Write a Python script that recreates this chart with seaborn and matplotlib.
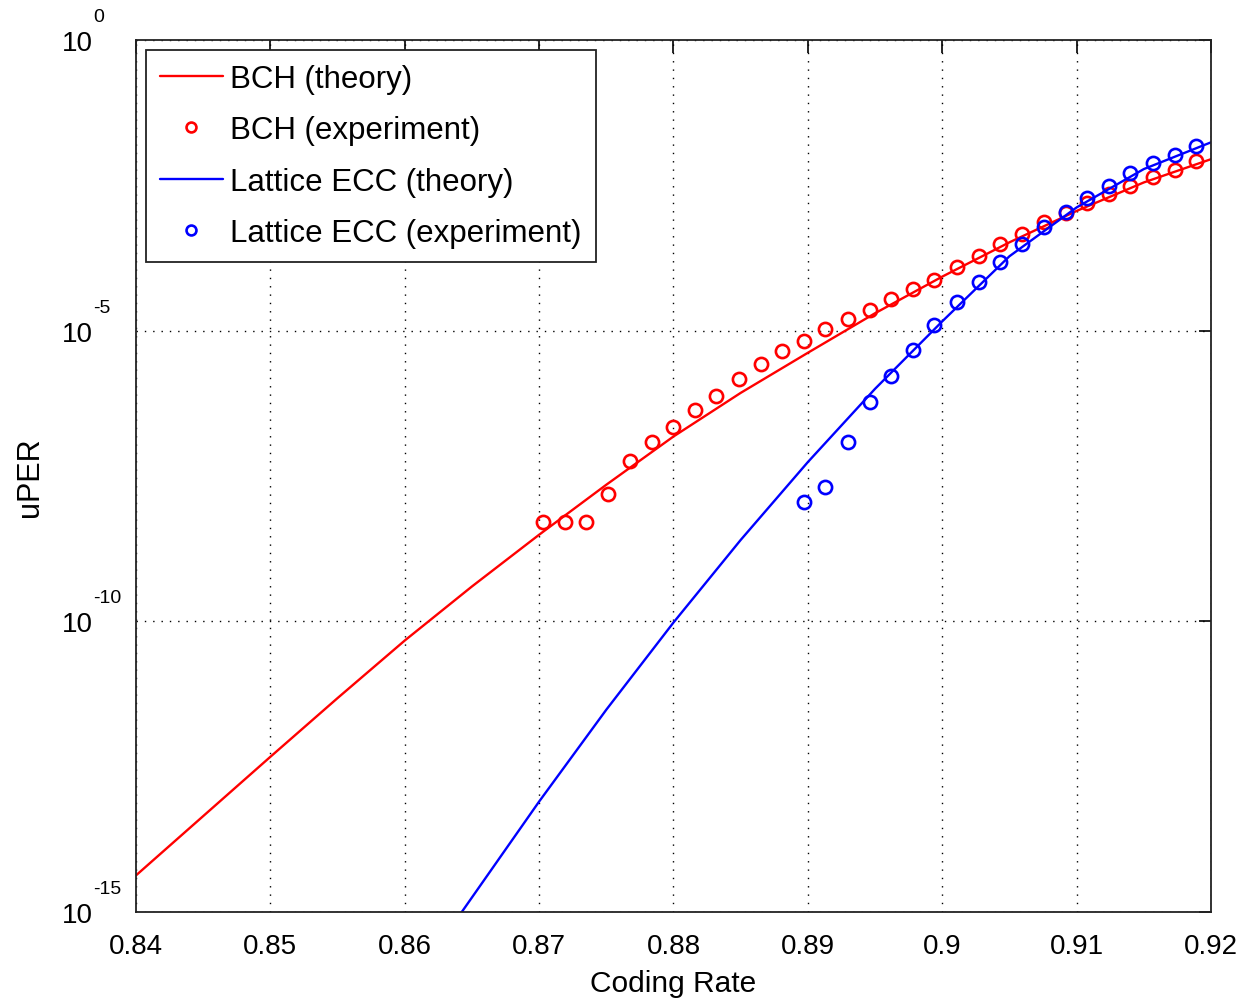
import numpy as np
import pandas as pd
import seaborn as sns
import matplotlib.pyplot as plt

# ---------------------------------------------------------
# Data (y values stored as log10)
# ---------------------------------------------------------
bch_theory_rate = [0.840, 0.845, 0.850, 0.855, 0.860, 0.865, 0.870, 0.875, 0.880,
                   0.885, 0.890, 0.895, 0.900, 0.905, 0.910, 0.915, 0.920]
bch_theory_log = [-14.37, -13.35, -12.33, -11.32, -10.33, -9.40, -8.51, -7.65, -6.82,
                  -6.07, -5.38, -4.70, -4.07, -3.48, -2.94, -2.45, -2.05]

lattice_theory_rate = [0.864, 0.865, 0.870, 0.875, 0.880, 0.885, 0.890, 0.895,
                       0.900, 0.905, 0.910, 0.915, 0.920]
lattice_theory_log = [-15.08, -14.75, -13.10, -11.52, -10.02, -8.60, -7.26, -6.00,
                      -4.84, -3.72, -2.88, -2.22, -1.76]

exp_rate = [0.8703, 0.8719, 0.8735, 0.8751, 0.8768, 0.8784, 0.8800, 0.8816,
            0.8832, 0.8849, 0.8865, 0.8881, 0.8897, 0.8913, 0.8930, 0.8946,
            0.8962, 0.8978, 0.8994, 0.9011, 0.9027, 0.9043, 0.9059, 0.9076,
            0.9092, 0.9108, 0.9124, 0.9140, 0.9157, 0.9173, 0.9189]
bch_exp_log = [-8.29, -8.29, -8.29, -7.81, -7.24, -6.92, -6.66, -6.37, -6.12, -5.83,
               -5.57, -5.35, -5.18, -4.97, -4.80, -4.64, -4.45, -4.29, -4.12, -3.90,
               -3.72, -3.51, -3.33, -3.13, -2.97, -2.80, -2.65, -2.51, -2.36, -2.23,
               -2.08]
# lattice experiment uses the last 19 rates
lattice_exp_log = [-7.95, -7.69, -6.92, -6.23, -5.78, -5.34, -4.91, -4.51, -4.17,
                   -3.82, -3.51, -3.22, -2.96, -2.71, -2.51, -2.29, -2.12, -1.98,
                   -1.83]

x_ticks = [0.84, 0.85, 0.86, 0.87, 0.88, 0.89, 0.9, 0.91, 0.92]
x_tick_labels = ['0.84', '0.85', '0.86', '0.87', '0.88', '0.89', '0.9', '0.91', '0.92']
y_decades = [0, -5, -10, -15]

# ---------------------------------------------------------
# Style
# ---------------------------------------------------------
sns.set_style('white')
plt.rcParams['font.family'] = ['Liberation Sans', 'DejaVu Sans']
plt.rcParams['text.color'] = 'black'
plt.rcParams['axes.labelcolor'] = 'black'
plt.rcParams['xtick.color'] = 'black'
plt.rcParams['ytick.color'] = 'black'

fig, ax = plt.subplots(figsize=(12.51, 10.03), dpi=100)
fig.subplots_adjust(left=0.1087, right=0.968, top=0.9591, bottom=0.0897)

bch_t = pd.DataFrame({'rate': bch_theory_rate, 'uper': np.power(10.0, bch_theory_log)})
lat_t = pd.DataFrame({'rate': lattice_theory_rate, 'uper': np.power(10.0, lattice_theory_log)})
bch_e = pd.DataFrame({'rate': exp_rate, 'uper': np.power(10.0, bch_exp_log)})
lat_e = pd.DataFrame({'rate': exp_rate[12:], 'uper': np.power(10.0, lattice_exp_log)})

sns.lineplot(data=bch_t, x='rate', y='uper', color='red', linewidth=1.7,
             label='BCH (theory)', ax=ax)
sns.lineplot(data=bch_e, x='rate', y='uper', color='red', linestyle='', marker='o',
             markersize=9.5, markerfacecolor='none', markeredgecolor='red',
             markeredgewidth=1.9, label='BCH (experiment)', ax=ax)
sns.lineplot(data=lat_t, x='rate', y='uper', color='blue', linewidth=1.7,
             label='Lattice ECC (theory)', ax=ax)
sns.lineplot(data=lat_e, x='rate', y='uper', color='blue', linestyle='', marker='o',
             markersize=9.5, markerfacecolor='none', markeredgecolor='blue',
             markeredgewidth=1.9, label='Lattice ECC (experiment)', ax=ax)

ax.set_yscale('log')
ax.set_xlim(0.84, 0.92)
ax.set_ylim(1e-15, 1)

ax.set_xticks(x_ticks)
ax.set_xticklabels(x_tick_labels)
ax.set_yticks([10.0 ** d for d in y_decades])
ax.set_yticklabels(['10'] * len(y_decades))
ax.minorticks_off()

# exponents of the decade labels, MATLAB style
for d in y_decades:
    ax.annotate(str(d), xy=(0, 10.0 ** d), xycoords=('axes fraction', 'data'),
                xytext=(-31, 17), textcoords='offset points',
                ha='left', va='center', fontsize=14)

ax.tick_params(axis='both', direction='in', length=9, width=1.2,
               top=True, right=True, labelsize=20)
ax.tick_params(axis='x', pad=15)
ax.tick_params(axis='y', pad=31)

ax.grid(True, which='major', color='black', linestyle=(0, (1, 5)), linewidth=1)
for s in ax.spines.values():
    s.set_color('#222222')
    s.set_linewidth(1.3)

ax.set_xlabel('Coding Rate', fontsize=21.5, labelpad=7)
ax.set_ylabel('uPER', fontsize=22, labelpad=12)

leg = ax.legend(loc='upper left', bbox_to_anchor=(0.0093, 0.9885), borderaxespad=0,
                fontsize=22.5, fancybox=False, framealpha=1, edgecolor='#222222',
                handlelength=2.0, handletextpad=0.25, labelspacing=0.68,
                borderpad=0.45, markerscale=0.75)
leg.get_frame().set_linewidth(1.3)

plt.savefig('out.png', dpi=100)
